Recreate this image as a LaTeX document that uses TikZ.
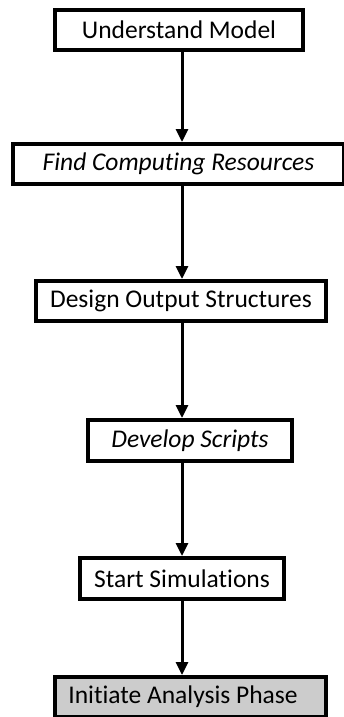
\documentclass[tikz,border=0pt]{standalone}
\usepackage{fontspec}
\setmainfont{Carlito}[Ligatures=NoCommon]
\usetikzlibrary{arrows.meta,calc}

\tikzset{
  stepbox/.style={draw=black, line width=4pt, fill=white, rectangle,
    inner sep=0pt, minimum height=40pt,
    font=\fontsize{25.5}{28}\selectfont},
  finalbox/.style={stepbox, fill=gray!40},
  flow/.style={line width=3pt, -{Triangle[width=12pt,length=13pt]}}
}

\begin{document}
\begin{tikzpicture}[x=1pt, y=-1pt]
  \useasboundingbox (0,0) rectangle (343,717);

  \node[stepbox, minimum width=248pt] (n1) at (179,30) {Understand Model};
  \node[stepbox, minimum width=331pt] (n2) at (178.5,164) {\itshape Find Computing Resources};
  \node[stepbox, minimum width=290pt] (n3) at (181,301) {Design Output Structures};
  \node[stepbox, minimum width=204pt, minimum height=41pt] (n4) at (190,440.5) {\itshape Develop Scripts};
  \node[stepbox, minimum width=204pt, minimum height=41pt] (n5) at (182,578.5) {Start Simulations};
  \node[finalbox, minimum width=271pt] (n6) at (190.5,697) {\hspace*{-15pt}Initiate Analysis Phase};

  % all connectors run down one common vertical line
  \coordinate (ax) at (182,0);
  \draw[flow] (n1.south -| ax) -- (n2.north -| ax);
  \draw[flow] (n2.south -| ax) -- (n3.north -| ax);
  \draw[flow] (n3.south -| ax) -- (n4.north -| ax);
  \draw[flow] (n4.south -| ax) -- (n5.north -| ax);
  \draw[flow] (n5.south -| ax) -- (n6.north -| ax);
\end{tikzpicture}
\end{document}
